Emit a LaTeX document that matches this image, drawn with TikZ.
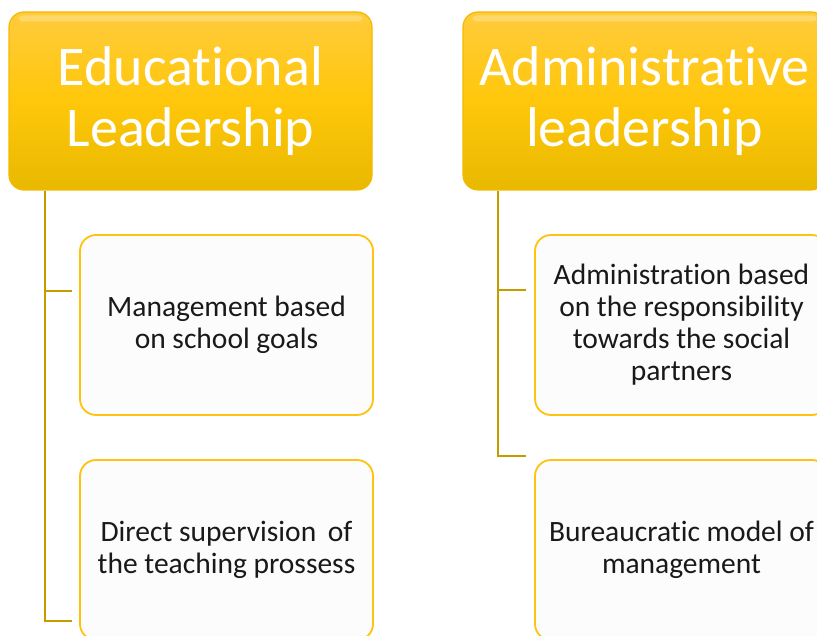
\documentclass[tikz,border=0pt]{standalone}
\usepackage{fontspec}
\setmainfont[Ligatures=NoCommon]{Carlito}
\usetikzlibrary{calc}

\definecolor{goldtop}{HTML}{FFCB3C}
\definecolor{goldmid}{HTML}{FFC70A}
\definecolor{goldbot}{HTML}{E8B900}
\definecolor{goldedge}{HTML}{F5B800}
\definecolor{boxedge}{HTML}{FFC20E}
\definecolor{linegold}{HTML}{C49C00}

\tikzset{
  header/.style={rounded corners=15pt, draw=goldedge, line width=1.2pt,
    top color=goldtop, bottom color=goldbot, middle color=goldmid,
    minimum width=363pt, minimum height=178pt, text=white,
    align=center, font=\fontsize{56}{61}\selectfont, inner sep=0pt},
  itembox/.style={rounded corners=16pt, draw=boxedge, line width=1.8pt,
    fill=black!1, minimum width=293pt, minimum height=180pt,
    align=center, text=black!90, font=\fontsize{29.5}{32}\selectfont, inner sep=0pt},
  branch/.style={draw=linegold, line width=2.8pt},
  gloss/.style={fill=white, opacity=0.25, rounded corners=4pt}
}

\begin{document}
\begin{tikzpicture}[x=1pt,y=-1pt]
    \useasboundingbox (0,0) rectangle (817,636);
    \clip (0,0) rectangle (817,636);

    % Cabeceras
    \node[header] (edu) at (190.5,101) {Educational\\Leadership};
    \node[header] (adm) at (644.5,101) {Administrative\\leadership};

    % Brillo de las cabeceras
    \fill[gloss] ($(edu.north west)+(10,4)$) rectangle ($(edu.north east)+(-10,10)$);
    \fill[gloss] ($(adm.north west)+(10,4)$) rectangle ($(adm.north east)+(-10,10)$);

    % Cajas de la columna izquierda
    \node[itembox] (edu1) at (226.5,325) {Management based\\on school goals};
    \node[itembox] (edu2) at (226.5,550) {Direct supervision\, of\\the teaching prossess};

    % Cajas de la columna derecha
    \node[itembox] (adm1) at (681.5,325) {Administration based\\on the responsibility\\towards the social\\partners};
    \node[itembox] (adm2) at (681.5,550) {Bureaucratic model of\\management};

    % Puntos de las ramas
    \coordinate (et) at (45,190);
    \coordinate (eb1) at (72,291);
    \coordinate (eb2) at (72,621);
    \coordinate (at) at (498,190);
    \coordinate (ab1) at (526,290);
    \coordinate (ab2) at (526,456);

    % Ramas
    \draw[branch] (edu.south -| et) |- (eb2);
    \draw[branch] (et |- eb1) -- (eb1);
    \draw[branch] (adm.south -| at) |- (ab2);
    \draw[branch] (at |- ab1) -- (ab1);
\end{tikzpicture}
\end{document}
